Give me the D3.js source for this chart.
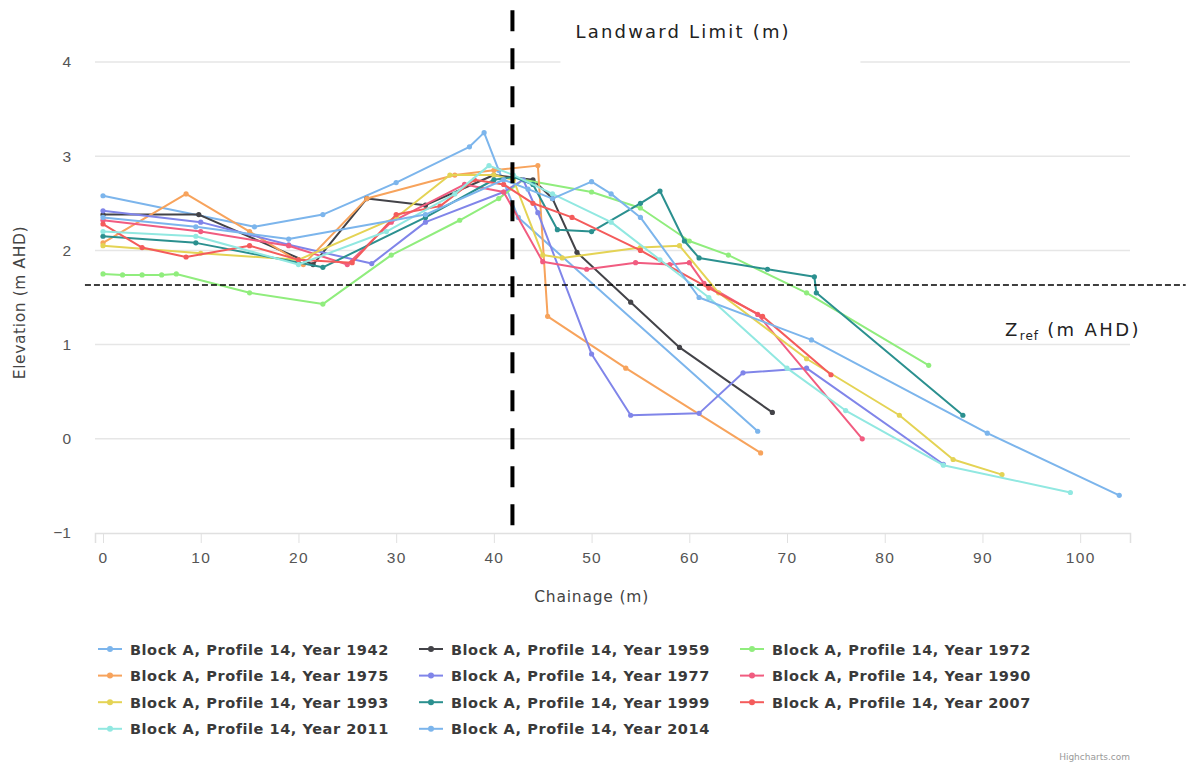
<!DOCTYPE html>
<html>
<head>
<meta charset="utf-8">
<script src="https://cdn.jsdelivr.net/npm/d3@7"></script>
<style>
  html, body { margin: 0; padding: 0; background: #fff; }
  svg { display: block; font-family: "DejaVu Sans", "Open Sans", sans-serif; }
</style>
</head>
<body>
<svg id="chart" width="1189" height="771"></svg>
<script>
// Beach profile survey: chainage (m) vs elevation (m AHD), one line per survey year
const years = [1942, 1959, 1972, 1975, 1977, 1990, 1993, 1999, 2007, 2011, 2014];
const colors = ["#7cb5ec", "#434348", "#90ed7d", "#f7a35c", "#8085e9", "#f15c80",
                "#e4d354", "#2b908f", "#f45b5b", "#91e8e1", "#7cb5ec"];

const p1942 = [[0,2.58],[15.5,2.25],[22.5,2.38],[30,2.72],[37.5,3.1],[39,3.25],[40.5,2.85],[42.5,2.35],[67,0.08]];
const p1959 = [[0,2.38],[9.8,2.38],[21.5,1.85],[27,2.55],[33,2.48],[40,2.8],[44,2.75],[46,2.55],[48.5,1.98],[54,1.45],[59,0.97],[68.5,0.28]];
const p1972 = [[0,1.75],[2,1.74],[4,1.74],[6,1.74],[7.5,1.75],[15,1.55],[22.5,1.43],[29.5,1.95],[36.5,2.32],[40.5,2.55],[43,2.75],[50,2.62],[55,2.45],[60,2.1],[64,1.95],[72,1.55],[84.5,0.78]];
const p1975 = [[0,2.08],[8.5,2.6],[15,2.2],[20.5,1.85],[27,2.55],[36,2.8],[40,2.85],[44.5,2.9],[45.5,1.3],[53.5,0.75],[67.3,-0.15]];
const p1977 = [[0,2.42],[10,2.3],[19,2.06],[27.5,1.86],[33,2.3],[41,2.62],[43,2.75],[44.5,2.4],[50,0.9],[54,0.25],[61,0.27],[65.5,0.7],[72,0.75],[86,-0.27]];
const p1990 = [[0,2.32],[10,2.2],[19,2.05],[25,1.85],[29.5,2.3],[37,2.7],[41,2.62],[45,1.88],[49.5,1.8],[54.5,1.87],[58,1.85],[60,1.87],[61.5,1.65],[67,1.32],[77.7,0.0]];
const p1993 = [[0,2.05],[10,1.97],[20,1.9],[30,2.35],[35.5,2.8],[40,2.8],[42,2.75],[45,1.95],[47,1.92],[55,2.03],[59,2.05],[63,1.55],[72,0.85],[81.5,0.25],[87,-0.22],[92,-0.38]];
const p1999 = [[0,2.15],[9.5,2.08],[22.5,1.82],[33,2.35],[40,2.75],[42,2.78],[44,2.7],[46.5,2.22],[50,2.2],[55,2.5],[57,2.63],[59.5,2.1],[61,1.92],[68,1.8],[72.8,1.72],[73,1.55],[88,0.25]];
const p2007 = [[0,2.28],[4,2.03],[8.5,1.93],[15,2.05],[20,1.9],[25.5,1.87],[30,2.38],[34.5,2.47],[38,2.75],[41,2.7],[44,2.5],[48,2.35],[55,2.0],[62,1.6],[67.5,1.3],[74.5,0.68]];
const p2011 = [[0,2.2],[9.5,2.15],[20,1.85],[29,2.2],[36,2.6],[39.5,2.9],[42,2.8],[46,2.6],[52,2.3],[57,1.9],[62,1.5],[70,0.75],[76,0.3],[86,-0.28],[99,-0.57]];
const p2014 = [[0,2.35],[9.5,2.25],[19,2.12],[33,2.38],[41,2.75],[43.5,2.65],[46,2.55],[50,2.73],[52,2.6],[55,2.35],[61,1.5],[72.5,1.05],[90.5,0.06],[104,-0.6]];
const profiles = [p1942, p1959, p1972, p1975, p1977, p1990, p1993, p1999, p2007, p2011, p2014];

const xTicks = [0, 10, 20, 30, 40, 50, 60, 70, 80, 90, 100];
const yTicks = [-1, 0, 1, 2, 3, 4];
const xDomain = [-0.82, 105.1];
const yDomain = [-1, 4];

// Reference lines
const landwardLimit = 41.9;          // chainage (m)
const landwardSpan = [-1.02, 4.55];  // elevation extent of the marker
const zRef = 1.633;                  // elevation (m AHD)
const zRefSpan = [-1.85, 110.8];     // chainage extent of the marker

const svg = d3.select("#chart");
const x = d3.scaleLinear().domain(xDomain).range([95, 1130]);
const y = d3.scaleLinear().domain(yDomain).range([533, 62]);

// Horizontal grid
svg.append("g").selectAll("line").data(yTicks.filter(d => d > yDomain[0])).join("line")
  .attr("x1", x(xDomain[0])).attr("x2", x(xDomain[1]))
  .attr("y1", d => y(d)).attr("y2", d => y(d))
  .attr("stroke", "#e6e6e6").attr("stroke-width", 1.5);

// X axis
const xAxis = d3.axisBottom(x).tickValues(xTicks).tickSize(10).tickPadding(9).tickFormat(d3.format("d"));
const gx = svg.append("g").attr("transform", `translate(0,${y(yDomain[0])})`).call(xAxis);
gx.select(".domain").attr("stroke", "#e0e0e0").attr("stroke-width", 1.5);
gx.selectAll(".tick line").attr("stroke", "#e0e0e0");
gx.selectAll(".tick text").attr("fill", "#555").style("font-size", "15.5px").style("letter-spacing", "1.3px");

// Y axis labels
const yAxis = d3.axisLeft(y).tickValues(yTicks).tickSize(0).tickPadding(0).tickFormat(d3.format("d"));
const gy = svg.append("g").attr("transform", `translate(${x(xDomain[0]) - 24},0)`).call(yAxis);
gy.select(".domain").remove();
gy.selectAll(".tick text").attr("fill", "#555").style("font-size", "15.5px");

// Axis titles
svg.append("text").attr("x", (x(0) + x(100)) / 2).attr("y", 602)
  .attr("text-anchor", "middle").attr("fill", "#444").style("font-size", "15.5px").style("letter-spacing", "0.8px")
  .text("Chainage (m)");
svg.append("text").attr("transform", `translate(25,${(y(yDomain[0]) + y(yDomain[1])) / 2 + 5}) rotate(-90)`)
  .attr("text-anchor", "middle").attr("fill", "#444").style("font-size", "15.5px").style("letter-spacing", "0.6px")
  .text("Elevation (m AHD)");

// Profile lines and markers
const line = d3.line().x(d => x(d[0])).y(d => y(d[1]));
const seriesG = svg.append("g");
profiles.forEach((pts, i) => {
  const g = seriesG.append("g");
  g.append("path").datum(pts).attr("d", line)
    .attr("fill", "none").attr("stroke", colors[i]).attr("stroke-width", 2)
    .attr("stroke-linejoin", "round");
  g.selectAll("circle").data(pts).join("circle")
    .attr("cx", d => x(d[0])).attr("cy", d => y(d[1])).attr("r", 2.6)
    .attr("fill", colors[i]);
});

// Landward limit (vertical) and Z_ref (horizontal) markers
svg.append("line")
  .attr("x1", x(landwardLimit)).attr("x2", x(landwardLimit))
  .attr("y1", y(landwardSpan[1])).attr("y2", y(landwardSpan[0]))
  .attr("stroke", "#000").attr("stroke-width", 4).attr("stroke-dasharray", "21,17");
svg.append("line")
  .attr("x1", x(zRefSpan[0])).attr("x2", x(zRefSpan[1]))
  .attr("y1", y(zRef)).attr("y2", y(zRef))
  .attr("stroke", "#000").attr("stroke-width", 1.6).attr("stroke-dasharray", "6,3");

// Annotation labels
const lw = svg.append("g");
lw.append("rect").attr("x", x(landwardLimit) + 48).attr("y", 14).attr("width", 300).attr("height", 56).attr("fill", "#fff");
lw.append("text").attr("x", x(landwardLimit) + 63).attr("y", 38)
  .attr("fill", "#222").style("font-size", "18px").style("letter-spacing", "2.2px").text("Landward Limit (m)");

const zt = svg.append("text").attr("x", 1005).attr("y", 336).attr("fill", "#222")
  .style("font-size", "18px").style("letter-spacing", "2.4px");
zt.append("tspan").text("Z");
zt.append("tspan").attr("dy", 4).style("font-size", "12px").style("letter-spacing", "1px").text("ref");
zt.append("tspan").attr("dy", -4).text(" (m AHD)");

// Legend: three columns
const legend = svg.append("g");
years.forEach((yr, i) => {
  const col = i % 3, row = Math.floor(i / 3);
  const lx = 98 + col * 321, ly = 649 + row * 26.6;
  const item = legend.append("g").attr("transform", `translate(${lx},${ly})`);
  item.append("line").attr("x1", 0).attr("x2", 24).attr("y1", 0).attr("y2", 0)
    .attr("stroke", colors[i]).attr("stroke-width", 2);
  item.append("circle").attr("cx", 12).attr("cy", 0).attr("r", 3).attr("fill", colors[i]);
  item.append("text").attr("x", 32).attr("y", 5.5).attr("fill", "#3a3a3a")
    .style("font-size", "14.5px").style("font-weight", "bold").style("letter-spacing", "0.55px")
    .text(`Block A, Profile 14, Year ${yr}`);
});

svg.append("text").attr("x", 1130).attr("y", 760).attr("text-anchor", "end")
  .attr("fill", "#999").style("font-size", "9px").text("Highcharts.com");
</script>
</body>
</html>
